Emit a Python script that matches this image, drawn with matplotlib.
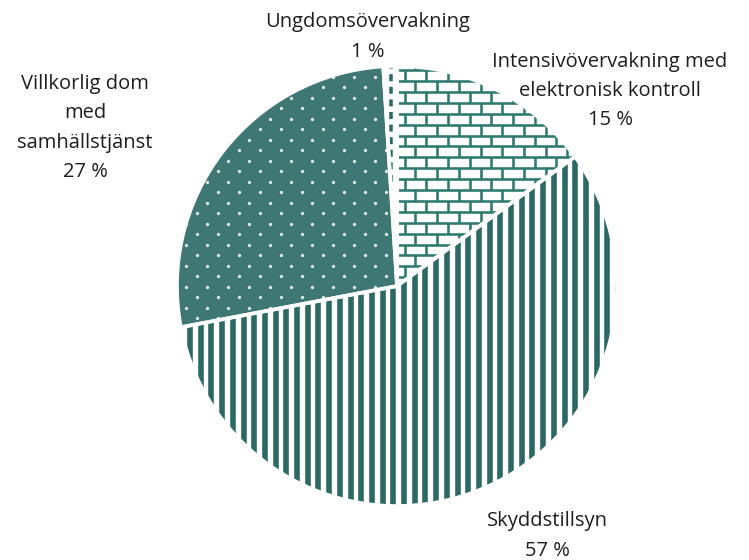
import numpy as np
import matplotlib.pyplot as plt
from matplotlib.collections import LineCollection

# data (clockwise from 12 o'clock)
labels = ['Intensivövervakning med\nelektronisk kontroll', 'Skyddstillsyn',
          'Villkorlig dom\nmed\nsamhällstjänst', 'Ungdomsövervakning']
shares = [15, 57, 27, 1]
pct_text = ['15 %', '57 %', '27 %', '1 %']

W, H = 749, 560
cx, cy, R = 397, 286, 220          # pie centre / radius in pixels
px = 1.0 / R                       # one pixel in data units

plt.rcParams['font.family'] = ['Open Sans', 'DejaVu Sans']
fig = plt.figure(figsize=(W / 100, H / 100), dpi=100)
half = 1.2 * R
ax = fig.add_axes([(cx - half) / W, (H - cy - half) / H, 2 * half / W, 2 * half / H])
ax.set_xlim(-1.2, 1.2)
ax.set_ylim(-1.2, 1.2)
ax.axis('off')

teal_dots = '#3e7773'
teal_brick = '#2e7a6e'
teal_stripe = '#2c6963'
faces = ['white', 'white', teal_dots, 'white']

wedges, _ = ax.pie(shares, startangle=90, counterclock=False, radius=1,
                   colors=faces, wedgeprops=dict(linewidth=0))

# pattern fills, clipped to the wedges
def brick(wedge):
    segs = []
    dy, dx = 10.9 * px, 21.7 * px
    ys = np.arange(-1.1, 1.1, dy)
    for k, y in enumerate(ys):
        segs.append([(-1.1, y), (1.1, y)])
        off = (k % 2) * dx / 2
        for x in np.arange(-1.1 + off, 1.1, dx):
            segs.append([(x, y), (x, y + dy)])
    lc = LineCollection(segs, colors=teal_brick, linewidths=2.6 * 0.72, zorder=2)
    ax.add_collection(lc)
    lc.set_clip_path(wedge)

def stripes(wedge):
    period = 10.7 * px
    segs = [[(x, -1.1), (x, 1.1)] for x in np.arange(-1.1 + 3 * px, 1.1, period)]
    lc = LineCollection(segs, colors=teal_stripe, linewidths=5.6 * 0.72,
                        capstyle='butt', zorder=2)
    ax.add_collection(lc)
    lc.set_clip_path(wedge)

def dots(wedge):
    dy, dx = 10.5 * px, 21 * px
    xs, ys = [], []
    for k, y in enumerate(np.arange(-1.1, 1.1, dy)):
        off = (k % 2) * dx / 2
        for x in np.arange(-1.1 + off, 1.1, dx):
            xs.append(x)
            ys.append(y)
    pts, = ax.plot(xs, ys, 'o', ms=2.4, mew=0, color='#dde9e7', zorder=2)
    pts.set_clip_path(wedge)

def dashes(wedge):
    x = -6 * px
    ln, = ax.plot([x, x], [-0.1, 1.1], color=teal_stripe, lw=3.5 * 0.72,
                  dashes=(5 / 2.5, 4 / 2.5), zorder=2)
    ln.set_clip_path(wedge)

brick(wedges[0])
stripes(wedges[1])
dots(wedges[2])
dashes(wedges[3])

# white separators on top
ax.pie(shares, startangle=90, counterclock=False, radius=1,
       colors=['none'] * 4, wedgeprops=dict(linewidth=2.6, edgecolor='white', zorder=3))
ax.set_xlim(-1.2, 1.2)
ax.set_ylim(-1.2, 1.2)

# labels
lab_pos = [(610, 91), (547, 536), (85, 128), (368, 37)]
for lab, pct, (x, y) in zip(labels, pct_text, lab_pos):
    fig.text(x / W, 1 - y / H, lab + '\n' + pct, ha='center', va='center',
             fontsize=14.5, color='#1e1e1e', linespacing=1.63)

fig.savefig('out.png', dpi=100)
